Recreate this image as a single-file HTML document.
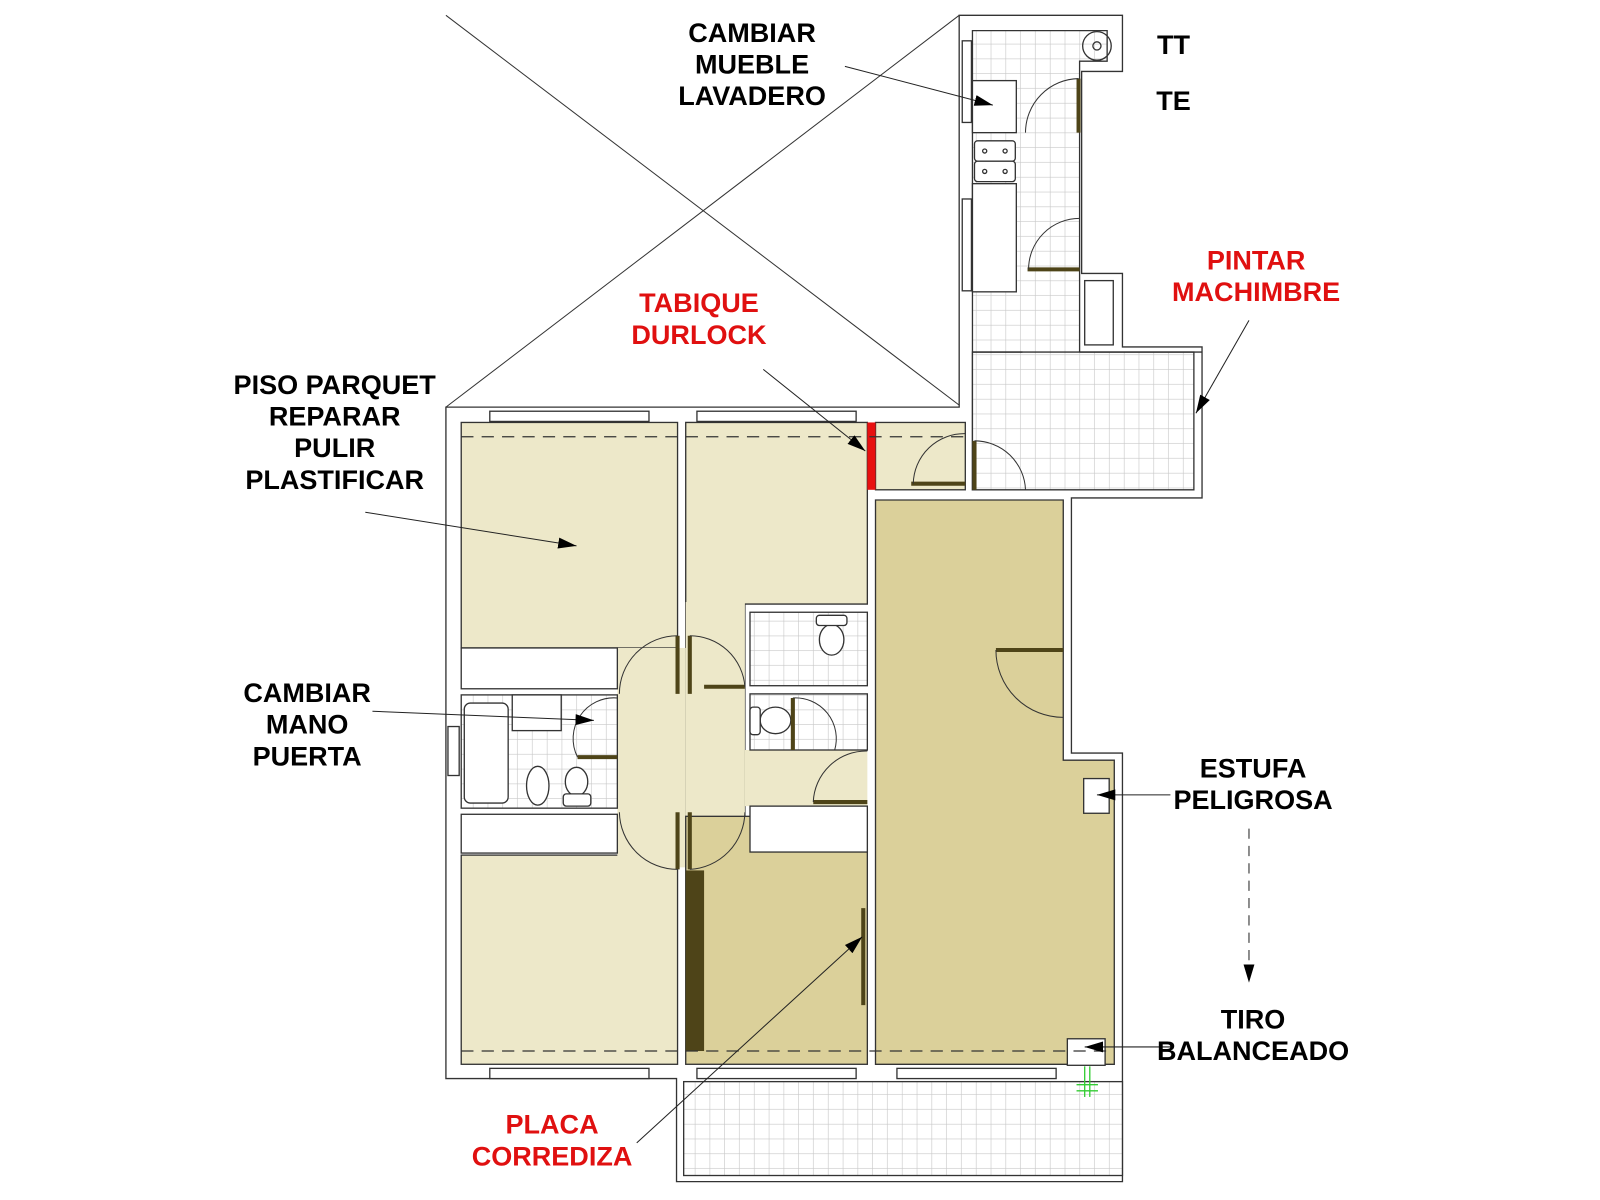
<!DOCTYPE html>
<html><head><meta charset="utf-8"><style>
html,body{margin:0;padding:0;background:#fff}
svg{display:block}
text{font-family:"Liberation Sans",Arial,sans-serif;font-weight:bold;font-size:26.5px;text-anchor:middle}
</style></head><body>
<svg width="1600" height="1200" viewBox="0 0 1568 1176" xmlns="http://www.w3.org/2000/svg">
<defs>
<pattern id="g" width="14.5" height="14.5" patternUnits="userSpaceOnUse">
<rect width="14.5" height="14.5" fill="#fff"/>
<path d="M14.5 0V14.5M0 14.5H14.5" stroke="#c8c8c8" stroke-width="1.2"/>
</pattern>
<marker id="b" viewBox="0 0 10 10" refX="10" refY="5" markerWidth="18" markerHeight="18" markerUnits="userSpaceOnUse" orient="auto"><path d="M0 2L10 5L0 8z" fill="#000"/></marker>
</defs>
<g stroke="#333" stroke-width="1.3" fill="none">
<line x1="437" y1="15" x2="940" y2="397" stroke-width="1"/>
<line x1="437" y1="399" x2="940" y2="15" stroke-width="1"/>
<path d="M437 399H940V15H1100V70H1060V268H1100V340H1178V488H1050V738H1100V1158H663V1057H437Z" fill="#fff"/>
<path d="M953 30H1085V60H1058V480H953Z" fill="url(#g)"/>
<path d="M953 345H1170V480H953Z" fill="url(#g)"/>
<line x1="953" y1="345" x2="1002" y2="345"/>
<line x1="1058" y1="345" x2="1178" y2="345"/>
<rect x="670" y="1060" width="430" height="92" fill="url(#g)"/>
<circle cx="1075" cy="45" r="14"/><circle cx="1075" cy="45" r="4"/>
<rect x="953" y="79" width="43" height="51" fill="#fff"/>
<rect x="955" y="138" width="40" height="20" rx="3" fill="#fff"/>
<rect x="955" y="158" width="40" height="20" rx="3" fill="#fff"/>
<circle cx="965" cy="148" r="2"/><circle cx="985" cy="148" r="2"/><circle cx="965" cy="168" r="2"/><circle cx="985" cy="168" r="2"/>
<rect x="953" y="180" width="43" height="106" fill="#fff"/>
<rect x="1063" y="275" width="28" height="63" fill="#fff"/>
<rect x="452" y="414" width="212" height="221" fill="#ede8c9"/>
<rect x="452" y="838" width="212" height="205" fill="#ede8c9"/>
<path d="M672 414H850V592H730V800H672Z" fill="#ede8c9"/>
<rect x="605" y="635" width="67" height="215" fill="#ede8c9" stroke="none"/>
<rect x="672" y="590" width="58" height="210" fill="#ede8c9" stroke="none"/>
<rect x="730" y="735" width="120" height="55" fill="#ede8c9" stroke="none"/>
<rect x="858" y="414" width="88" height="66" fill="#ede8c9"/>
<rect x="850" y="414" width="8" height="66" fill="#e81010" stroke="none"/>
<path d="M858 490H1042V745H1092V1043H858Z" fill="#dbd09a"/>
<rect x="672" y="800" width="178" height="243" fill="#dbd09a"/>
<rect x="672" y="853" width="18" height="177" fill="#4e4418" stroke="none"/>
<rect x="452" y="635" width="153" height="40" fill="#fff"/>
<rect x="452" y="798" width="153" height="38" fill="#fff"/>
<rect x="452" y="681" width="153" height="111" fill="url(#g)"/>
<rect x="455" y="689" width="43" height="98" rx="6" fill="#fff"/>
<rect x="502" y="681" width="48" height="35" fill="#fff"/>
<ellipse cx="527" cy="770" rx="11" ry="19" fill="#fff"/>
<ellipse cx="565" cy="766" rx="11" ry="14" fill="#fff"/>
<rect x="552" y="778" width="27" height="12" rx="3" fill="#fff"/>
<rect x="735" y="600" width="115" height="72" fill="url(#g)"/>
<ellipse cx="815" cy="627" rx="12" ry="15" fill="#fff"/>
<rect x="800" y="603" width="30" height="10" rx="3" fill="#fff"/>
<rect x="735" y="680" width="115" height="55" fill="url(#g)"/>
<ellipse cx="760" cy="706" rx="15" ry="13" fill="#fff"/>
<rect x="735" y="693" width="10" height="27" rx="3" fill="#fff"/>
<rect x="735" y="790" width="115" height="45" fill="#fff"/>
<rect x="480" y="403" width="156" height="10" fill="#fff"/>
<rect x="683" y="403" width="156" height="10" fill="#fff"/>
<rect x="480" y="1047" width="156" height="10" fill="#fff"/>
<rect x="683" y="1047" width="156" height="10" fill="#fff"/>
<rect x="879" y="1047" width="156" height="10" fill="#fff"/>
<rect x="439" y="712" width="11" height="48" fill="#fff"/>
<rect x="943" y="40" width="9" height="80" fill="#fff"/>
<rect x="943" y="195" width="9" height="90" fill="#fff"/>
<rect x="1062" y="763" width="25" height="34" fill="#fff"/>
<rect x="1046" y="1018" width="37" height="26" fill="#fff"/>
<g stroke="#3c3"><line x1="1063" y1="1045" x2="1063" y2="1075"/><line x1="1068" y1="1045" x2="1068" y2="1075"/><line x1="1055" y1="1063" x2="1076" y2="1063"/><line x1="1055" y1="1069" x2="1076" y2="1069"/></g>
<g stroke-dasharray="12,8" stroke="#333"><line x1="452" y1="428" x2="946" y2="428"/><line x1="452" y1="1030" x2="1092" y2="1030"/></g>
<g stroke="#4e4418" stroke-width="4">
<line x1="1057" y1="77" x2="1057" y2="130"/><line x1="1007" y1="264" x2="1058" y2="264"/>
<line x1="955" y1="432" x2="955" y2="480"/><line x1="893" y1="474" x2="946" y2="474"/>
<line x1="664" y1="623" x2="664" y2="680"/><line x1="676" y1="623" x2="676" y2="680"/>
<line x1="664" y1="796" x2="664" y2="852"/><line x1="676" y1="796" x2="676" y2="852"/>
<line x1="690" y1="673" x2="730" y2="673"/><line x1="566" y1="742" x2="605" y2="742"/>
<line x1="797" y1="786" x2="850" y2="786"/><line x1="976" y1="637" x2="1042" y2="637"/>
<line x1="846" y1="890" x2="846" y2="985"/><line x1="777" y1="684" x2="777" y2="735"/>
</g>
<g stroke-width="1">
<path d="M1057 77A53 53 0 0 0 1005 130"/><path d="M1058 214A50 50 0 0 0 1008 264"/>
<path d="M955 432A50 50 0 0 1 1005 480"/><path d="M946 425A50 50 0 0 0 895 474"/>
<path d="M664 623A57 57 0 0 0 607 680"/><path d="M676 623A54 54 0 0 1 730 673"/>
<path d="M664 852A57 57 0 0 1 607 796"/><path d="M676 852A57 57 0 0 0 730 796"/>
<path d="M605 684A40 40 0 0 0 566 742"/><path d="M850 736A52 52 0 0 0 797 786"/>
<path d="M976 637A66 66 0 0 0 1042 703"/><path d="M777 684A40 40 0 0 1 818 735"/>
</g>
<g stroke="#222" stroke-width="1">
<line x1="828" y1="65" x2="973" y2="103" marker-end="url(#b)"/>
<line x1="1224" y1="314" x2="1172" y2="405" marker-end="url(#b)"/>
<line x1="748" y1="362" x2="848" y2="442" marker-end="url(#b)"/>
<line x1="358" y1="502" x2="565" y2="535" marker-end="url(#b)"/>
<line x1="365" y1="697" x2="582" y2="706" marker-end="url(#b)"/>
<line x1="1147" y1="779" x2="1075" y2="779" marker-end="url(#b)"/>
<line x1="1224" y1="812" x2="1224" y2="963" stroke-dasharray="10,7" marker-end="url(#b)"/>
<line x1="1150" y1="1026" x2="1063" y2="1026" marker-end="url(#b)"/>
<line x1="624" y1="1120" x2="845" y2="918" marker-end="url(#b)"/>
</g>
</g>
<text x="737" y="41">CAMBIAR</text><text x="737" y="72">MUEBLE</text><text x="737" y="103">LAVADERO</text>
<text x="1150" y="53">TT</text><text x="1150" y="108">TE</text>
<g fill="#e01010"><text x="1231" y="264">PINTAR</text><text x="1231" y="295">MACHIMBRE</text>
<text x="685" y="306">TABIQUE</text><text x="685" y="337">DURLOCK</text>
<text x="541" y="1111">PLACA</text><text x="541" y="1142">CORREDIZA</text></g>
<text x="328" y="386">PISO PARQUET</text><text x="328" y="417">REPARAR</text><text x="328" y="448">PULIR</text><text x="328" y="479">PLASTIFICAR</text>
<text x="301" y="688">CAMBIAR</text><text x="301" y="719">MANO</text><text x="301" y="750">PUERTA</text>
<text x="1228" y="762">ESTUFA</text><text x="1228" y="793">PELIGROSA</text>
<text x="1228" y="1008">TIRO</text><text x="1228" y="1039">BALANCEADO</text>
</svg>
</body></html>
